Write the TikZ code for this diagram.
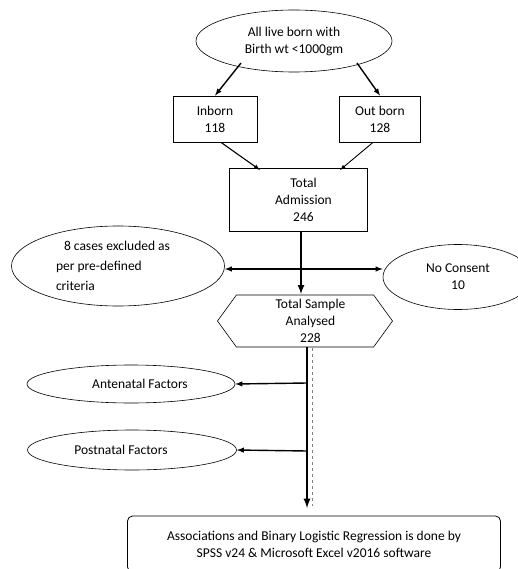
\documentclass[tikz,border=0pt]{standalone}
\usepackage{fontspec}
\setmainfont{Carlito}
\usetikzlibrary{shapes.geometric,shapes.symbols}
\newcommand{\nudge}{\hspace*{11pt}}

\begin{document}
\begin{tikzpicture}[x=1pt,y=-1pt,
	every node/.style={font=\fontsize{13.5}{17}\selectfont,align=center,inner sep=0pt},
	oval/.style={draw,ellipse,line width=0.6pt},
	boxnode/.style={draw,rectangle,line width=0.8pt},
	flow/.style={->,>=latex,line width=1.4pt}]
\useasboundingbox (0,0) rectangle (518,569);
% ノード
\node[oval,minimum width=196pt,minimum height=62pt] (born) at (294,41) {All live born with\\Birth wt <1000gm};
\node[boxnode,minimum width=84pt,minimum height=46pt] (inb) at (215,119) {Inborn\\118};
\node[boxnode,minimum width=81pt,minimum height=46pt] (outb) at (380,119) {Out born\\128};
\node[boxnode,minimum width=138pt,minimum height=63pt] (adm) at (298,200) {\nudge Total\\\nudge Admission\\\nudge 246};
\node[oval,minimum width=213pt,minimum height=80pt,align=left,
	font=\fontsize{13.5}{20}\selectfont] (excl) at (118,266) {\hspace*{8pt}8 cases excluded as\hspace*{10pt}\\per pre-defined\\criteria};
\node[oval,minimum width=150pt,minimum height=65pt] (nocon) at (458,277) {No Consent\\10};
\node[draw,signal,signal to=east and west,signal pointer angle=108,line width=0.6pt,
	minimum width=175pt,minimum height=52pt] (hex) at (305,321) {\nudge Total Sample\\\nudge Analysed\\\nudge 228};
\node[oval,minimum width=208pt,minimum height=38pt] (ante) at (131,384) {\hspace*{18pt}Antenatal Factors};
\node[oval,minimum width=209pt,minimum height=40pt] (post) at (132,450) {\hspace*{-22pt}Postnatal Factors};
\node[draw,rounded corners=5pt,line width=0.8pt,minimum width=373pt,minimum height=56pt] (res) at (314,544)
	{Associations and Binary Logistic Regression is done by\\SPSS v24 \& Microsoft Excel v2016 software};
% 矢印
\coordinate (split) at (301,269);
\draw[flow] (241,63) -- (inb.north);
\draw[flow] (357,63) -- (outb.north);
\draw[flow,line width=1.1pt] (inb.south) ++(6,0) -- (260,170);
\draw[flow,line width=0.9pt] (outb.south) ++(-7,0) -- (340,170);
\draw[flow,line width=2pt] (adm.south) ++(3,0) -- (301,294);
\draw[flow,<->] (excl.east |- split) -- (nocon.west |- split);
\draw[gray,dashed,line width=0.5pt] (312,348) -- (312,506);
\draw[flow,line width=2.2pt] (307,347) -- (307,508);
\draw[flow] (307,383) -- (ante.east);
\draw[flow] (307,451) -- (post.east);
\end{tikzpicture}
\end{document}
